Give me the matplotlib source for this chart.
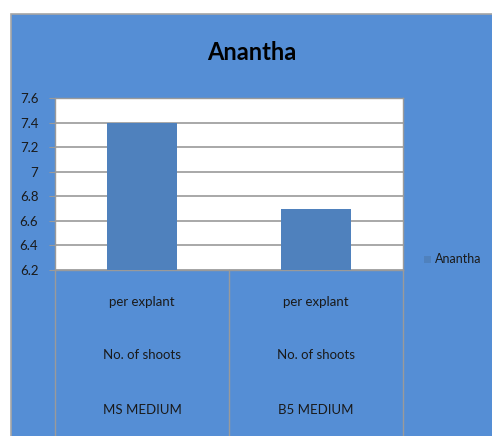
import matplotlib
matplotlib.use('Agg')
import matplotlib.pyplot as plt
from matplotlib.patches import Rectangle
import matplotlib.transforms as mtransforms

# data
categories = ['MS MEDIUM', 'B5 MEDIUM']
row2 = ['No. of shoots', 'No. of shoots']
row1 = ['per explant', 'per explant']
values = [7.4, 6.7]
series_name = 'Anantha'

plt.rcParams['font.family'] = ['Lato', 'DejaVu Sans']

W, H = 492, 436
fig = plt.figure(figsize=(W / 100, H / 100), dpi=100)
fig.patch.set_facecolor('white')

blue = '#558ED5'
bar_col = '#4F81BD'
grey = '#9A9A9A'
txt = '#1a1a1a'

# chart background
fig.patches.append(Rectangle((11 / W, -0.01), 1.02 - 11 / W, (H - 14) / H + 0.01,
                             transform=fig.transFigure, facecolor=blue,
                             edgecolor='#A6A6A6', linewidth=1.2, zorder=-5))

ax = fig.add_axes([55 / W, (H - 270) / H, 348 / W, 172 / H])
ax.set_facecolor('white')
x = list(range(len(categories)))
ax.bar(x, values, width=0.4, color=bar_col, zorder=3, label=series_name)
ax.set_xlim(-0.5, 1.5)
ax.set_ylim(6.2, 7.6)
ax.set_yticks([6.2, 6.4, 6.6, 6.8, 7.0, 7.2, 7.4, 7.6])
ax.set_yticklabels(['6.2', '6.4', '6.6', '6.8', '7', '7.2', '7.4', '7.6'])
ax.yaxis.grid(True, color=grey, linewidth=1.2, zorder=1)
ax.set_axisbelow(True)
ax.tick_params(axis='y', length=4, color=grey, labelsize=9.5, pad=8, labelcolor=txt)
ax.set_xticks([])
for s in ax.spines.values():
    s.set_color(grey)
    s.set_linewidth(1.0)

# multi-level category labels
trans = mtransforms.blended_transform_factory(ax.transData, ax.transAxes)
bottom = -(436 - 270) / 172
for xv in [-0.5, 0.5, 1.5]:
    ax.plot([xv, xv], [0, bottom], color=grey, linewidth=1.0, transform=trans, clip_on=False)
for i in x:
    ax.text(i, (270 - 302) / 172, row1[i], transform=trans, ha='center', va='center',
            fontsize=9.5, color=txt)
    ax.text(i, (270 - 355) / 172, row2[i], transform=trans, ha='center', va='center',
            fontsize=9.5, color=txt)
    ax.text(i, (270 - 410) / 172, categories[i], transform=trans, ha='center', va='center',
            fontsize=9.5, color=txt)

fig.text(252 / W, 1 - 52 / H, series_name, ha='center', va='center',
         fontsize=17, fontweight='bold', color='black')

# legend
fig.patches.append(Rectangle((424 / W, 1 - 263 / H), 7 / W, 7 / H, transform=fig.transFigure,
                             facecolor=bar_col, edgecolor='none'))
fig.text(435 / W, 1 - 259 / H, series_name, ha='left', va='center', fontsize=9, color=txt)

fig.savefig('out.png', dpi=100)
